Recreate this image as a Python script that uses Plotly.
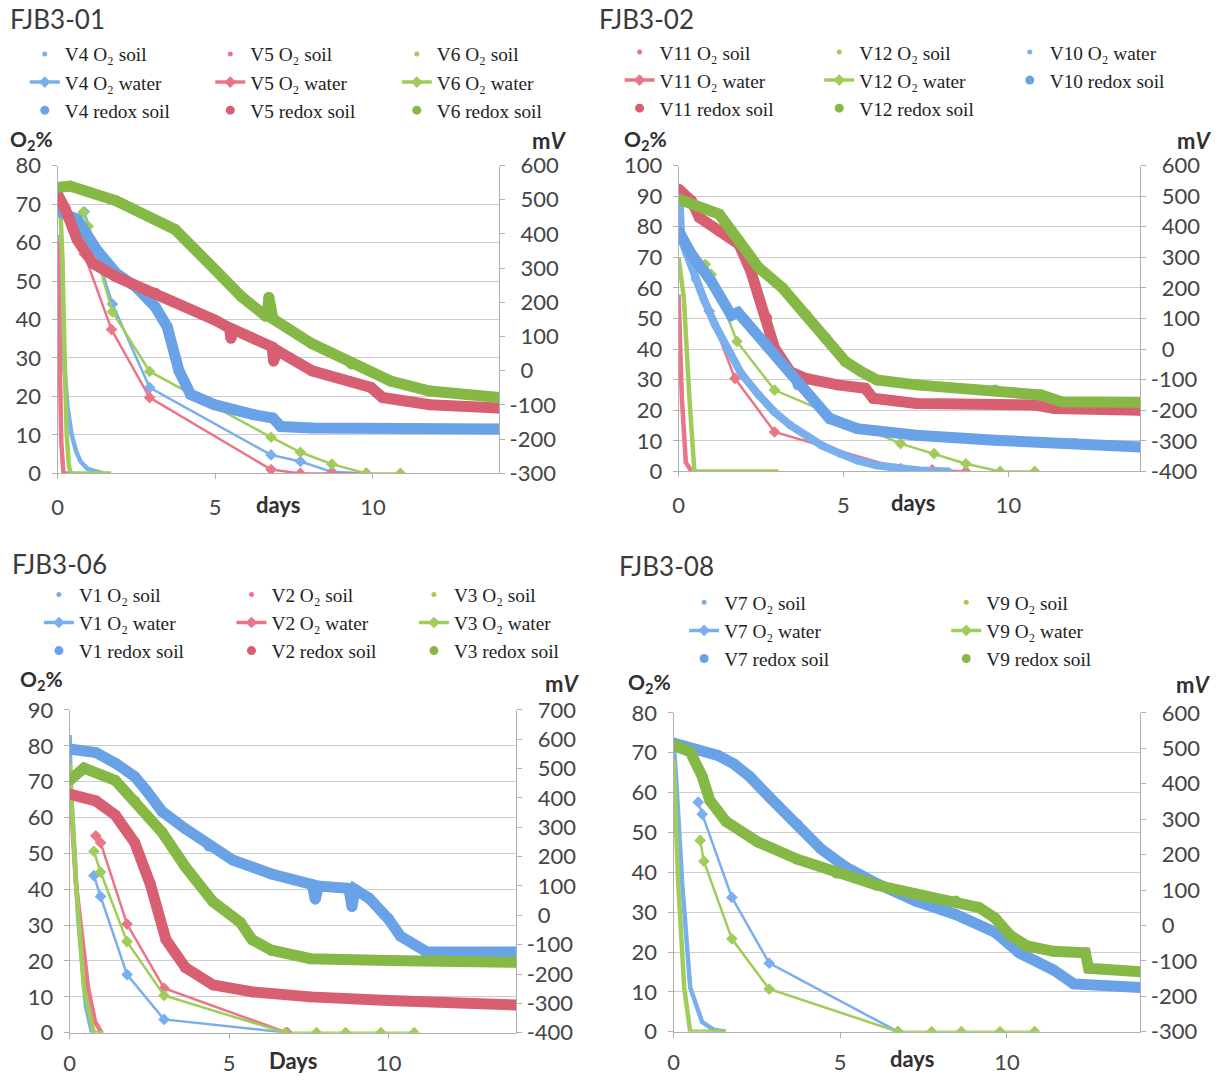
import plotly.graph_objects as go

W, H = 1219, 1080

# ---------------- DATA ----------------
BLUE, PINK, GREEN = "#78AFEC", "#EC7487", "#A0CD5A"
BLUE_R, PINK_R, GREEN_R = "#69A2E6", "#D85F71", "#86B846"

# FJB3-01  (O2 %, redox mV)
v4_soil_x = [0, 0.12, 0.22, 0.32, 0.45, 0.6, 0.73, 0.95, 1.3, 1.45]
v4_soil_y = [62, 42, 27, 17, 10, 5.5, 3.1, 1.2, 0.2, 0]
v5_soil_x = [0, 0.04, 0.08, 0.12, 0.19, 0.4]
v5_soil_y = [60, 42, 22, 8, 0, 0]
v6_soil_x = [0.1, 0.16, 0.22, 0.29, 0.36, 0.42, 0.8, 1.7]
v6_soil_y = [67, 55, 32, 10, 2, 0, 0, 0]
v4_water_x = [0.85, 1.74, 2.92, 6.77, 7.7, 8.7, 9.79]
v4_water_y = [68, 44, 22.3, 4.8, 3.1, 0.4, 0]
v5_water_x = [0.85, 1.71, 2.92, 6.77, 7.7, 8.7, 9.79]
v5_water_y = [57, 37.4, 19.7, 1.0, 0, 0, 0]
v6_water_x = [0.81, 0.97, 1.74, 2.92, 6.77, 7.7, 8.7, 9.79, 10.87]
v6_water_y = [67.9, 64.2, 42, 26.5, 9.4, 5.5, 2.4, 0, 0]
v4_redox_x = [0, 0.62, 1.24, 1.86, 2.48, 3.1, 3.48, 3.85, 4.22, 4.97, 6.21, 6.83, 7.08, 8.07, 14]
v4_redox_y = [467, 443, 354, 285, 246, 187, 128, 0, -69, -99, -128, -138, -163, -167, -170]
v5_redox_x = [0, 0.25, 0.62, 1.12, 1.86, 3.1, 5.0, 5.45, 5.5, 5.55, 6.8, 6.85, 6.95, 8.07, 9.94, 10.3, 11.8, 14]
v5_redox_y = [516, 472, 384, 314, 275, 227, 148, 125, 95, 122, 70, 28, 60, 0, -49, -78, -99, -109]
v6_redox_x = [0, 0.4, 1.86, 3.73, 5.0, 5.84, 6.6, 6.65, 6.7, 6.75, 6.83, 8.07, 9.32, 10.56, 11.8, 14]
v6_redox_y = [536, 540, 497, 413, 295, 216, 160, 160, 215, 160, 152, 79, 20, -30, -59, -78]

# FJB3-02
v11_soil_x = [0, 0.05, 0.1, 0.22, 0.39]
v11_soil_y = [57.8, 45, 23.9, 3, 0]
v12_soil_x = [0, 0.16, 0.33, 0.48, 1.5, 3.03]
v12_soil_y = [70, 56.7, 23.9, 0, 0, 0]
v10_water_x = [0, 0.04, 0.08, 0.22, 0.5, 0.75, 1.1, 1.47, 1.9, 2.43, 2.9, 3.39, 3.9, 4.34, 4.9, 5.42, 6.0, 6.62, 7.3, 8.17]
v10_water_y = [78, 87, 76, 72, 63, 56.7, 48, 40.3, 32, 25, 19.5, 15.1, 11.5, 8.5, 5.8, 3.6, 2, 0.9, 0.3, 0]
v11_water_x = [0.93, 1.71, 2.91, 6.73, 7.69, 8.71]
v11_water_y = [52.4, 30.4, 12.9, 0.9, 0.5, 0]
v12_water_x = [0.81, 0.99, 1.77, 2.91, 6.73, 7.75, 8.71, 9.75, 10.8]
v12_water_y = [67.7, 64.4, 42.5, 26.6, 9.1, 5.8, 2.5, 0, 0]
v11_redox_x = [0, 0.39, 0.63, 1.23, 1.83, 2.19, 2.67, 2.91, 3.39, 3.86, 4.82, 5.66, 5.9, 7.21, 10.8, 11.4, 14]
v11_redox_y = [523, 485, 430, 386, 343, 255, 102, 3, -74, -96, -117, -128, -161, -178, -183, -194, -200]
v12_redox_x = [0, 1.23, 1.83, 2.43, 3.15, 3.86, 4.46, 5.06, 5.54, 6.01, 7.21, 9.6, 11.0, 11.6, 14]
v12_redox_y = [490, 441, 354, 266, 200, 113, 36, -41, -74, -101, -117, -134, -150, -172, -174]
v10_redox_x = [0, 0.39, 0.99, 1.6, 1.8, 2.0, 2.67, 3.62, 4.58, 5.42, 7.21, 9.6, 12, 14]
v10_redox_y = [386, 310, 222, 110, 120, 95, 14, -117, -227, -260, -282, -298, -309, -320]

# FJB3-06
v1_soil_x = [0, 0.03, 0.09, 0.27, 0.51, 0.7]
v1_soil_y = [83, 70, 60.7, 31.7, 7.5, 0]
v2_soil_x = [0, 0.2, 0.58, 0.8, 1.0]
v2_soil_y = [70.4, 41.4, 12.4, 3, 0]
v3_soil_x = [0, 0.2, 0.45, 0.76, 1.06]
v3_soil_y = [75.2, 41.4, 12.4, 0, 0]
v1_water_x = [0.76, 0.97, 1.8, 2.96, 6.82]
v1_water_y = [43.8, 38, 16.2, 3.7, 0]
v2_water_x = [0.82, 0.97, 1.8, 2.96, 6.82]
v2_water_y = [54.9, 53, 30.3, 12.4, 0]
v3_water_x = [0.76, 0.97, 1.8, 2.96, 6.76, 7.74, 8.65, 9.76, 10.8]
v3_water_y = [50.6, 44.8, 25.4, 10.4, 0, 0, 0, 0, 0]
v1_redox_x = [0, 0.82, 1.43, 2.04, 2.41, 2.9, 3.63, 4.37, 5.1, 6.33, 7.6, 7.7, 7.8, 8.75, 8.85, 8.95, 9.39, 10.0, 10.37, 11.2, 14]
v1_redox_y = [567, 555, 519, 473, 425, 354, 295, 236, 189, 141, 105, 55, 100, 92, 30, 88, 58, -13, -71, -125, -125]
v2_redox_x = [0, 0.82, 1.43, 2.04, 2.53, 3.02, 3.63, 4.49, 5.72, 7.55, 10, 14]
v2_redox_y = [413, 390, 342, 248, 106, -83, -178, -237, -261, -278, -290, -306]
v3_redox_x = [0, 0.45, 1.43, 2.04, 2.9, 3.63, 4.49, 5.35, 5.72, 6.33, 7.55, 10, 14]
v3_redox_y = [460, 502, 460, 390, 283, 165, 47, -24, -83, -119, -148, -154, -160]

# FJB3-08
v7_soil_x = [0, 0.04, 0.08, 0.26, 0.5, 0.86, 1.2, 1.57]
v7_soil_y = [73, 66, 63.3, 37.2, 11.1, 2.4, 0.5, 0]
v9_soil_x = [0, 0.14, 0.32, 0.5, 1.57]
v9_soil_y = [68.5, 37.2, 11.1, 0, 0]
v7_water_x = [0.74, 0.86, 1.75, 2.87, 6.73]
v7_water_y = [57.6, 54.6, 33.7, 17.2, 0]
v9_water_x = [0.8, 0.91, 1.75, 2.87, 6.73, 7.74, 8.63, 9.79, 10.83]
v9_water_y = [48, 42.8, 23.3, 10.7, 0, 0, 0, 0, 0]
v7_redox_x = [0, 0.74, 1.33, 1.81, 2.28, 2.87, 3.71, 4.42, 5.13, 6.08, 7.27, 8.46, 9.64, 10.36, 11.4, 12, 14]
v7_redox_y = [515, 494, 480, 456, 421, 363, 285, 216, 167, 119, 69, 31, -19, -77, -126, -165, -175]
v9_redox_x = [0, 0.5, 0.86, 1.09, 1.57, 2.52, 3.71, 4.89, 6.08, 7.27, 8.46, 9.17, 9.64, 10.1, 10.6, 11.4, 12.35, 12.45, 14]
v9_redox_y = [509, 490, 421, 353, 294, 236, 187, 148, 114, 89, 69, 50, 21, -28, -58, -73, -77, -121, -131]

panel_titles = ["FJB3-01", "FJB3-02", "FJB3-06", "FJB3-08"]
x_titles = ["days", "days", "Days", "days"]
left_ranges = [(0, 80), (0, 100), (0, 90), (0, 80)]
right_ranges = [(-300, 600), (-400, 600), (-400, 700), (-300, 600)]
x_range = (0, 14)
x_ticks = [0, 5, 10]

# ---------------- LAYOUT GEOMETRY ----------------
def fx(p):
    return (p / 0.987 - 8) / W

def fy(p):
    return 1 - (p / 0.985 - 8) / H

panel_px = [
    dict(x0=59, x1=497, y0=161, y1=472),
    dict(x0=675, x1=1133, y0=161, y1=470),
    dict(x0=71, x1=514, y0=711, y1=1037),
    dict(x0=670, x1=1133, y0=714, y1=1036),
]

TICKFONT = dict(family="Lato, 'Open Sans', sans-serif", size=22, color="#454545")
GRID = "#cccccc"
AXLINE = "#b0b0b0"

fig = go.Figure()

for i, g in enumerate(panel_px):
    n = i + 1
    xa = "xaxis" if n == 1 else f"xaxis{n}"
    ya = "yaxis" if n == 1 else f"yaxis{2 * n - 1}"
    yb = f"yaxis{2 * n}"
    xref = "x" if n == 1 else f"x{n}"
    yref = "y" if n == 1 else f"y{2 * n - 1}"
    lo, hi = left_ranges[i]
    rlo, rhi = right_ranges[i]
    rvals = list(range(rlo, rhi + 1, 100))
    rtext = [str(v) if v < 0 else "\u2002" + str(v) for v in rvals]
    fig.layout[xa] = dict(
        domain=[fx(g["x0"]), fx(g["x1"])], range=list(x_range), anchor=yref,
        tickvals=x_ticks, showgrid=False, zeroline=False, showline=True,
        linecolor=AXLINE, ticks="outside", ticklen=5, tickcolor=AXLINE,
        tickfont=TICKFONT, ticklabelstandoff=9 if i < 2 else 6,
    )
    fig.layout[ya] = dict(
        domain=[fy(g["y1"]), fy(g["y0"])], range=[lo, hi], anchor=xref, dtick=10,
        showgrid=True, gridcolor=GRID, gridwidth=1, zeroline=False, showline=True,
        linecolor=AXLINE, ticks="outside", ticklen=5, tickcolor=AXLINE,
        tickfont=TICKFONT, ticklabelstandoff=6,
    )
    fig.layout[yb] = dict(
        range=[rlo, rhi], overlaying=yref, anchor=xref, side="right",
        tickvals=rvals, ticktext=rtext,
        showgrid=False, zeroline=False, showline=True, linecolor=AXLINE,
        ticks="outside", ticklen=5, tickcolor=AXLINE, tickfont=TICKFONT,
        ticklabelstandoff=0,
    )

panels = [
    [
        ("V4", BLUE, BLUE_R, (v4_soil_x, v4_soil_y), (v4_water_x, v4_water_y), (v4_redox_x, v4_redox_y)),
        ("V5", PINK, PINK_R, (v5_soil_x, v5_soil_y), (v5_water_x, v5_water_y), (v5_redox_x, v5_redox_y)),
        ("V6", GREEN, GREEN_R, (v6_soil_x, v6_soil_y), (v6_water_x, v6_water_y), (v6_redox_x, v6_redox_y)),
    ],
    [
        ("V11", PINK, PINK_R, (v11_soil_x, v11_soil_y), (v11_water_x, v11_water_y), (v11_redox_x, v11_redox_y)),
        ("V12", GREEN, GREEN_R, (v12_soil_x, v12_soil_y), (v12_water_x, v12_water_y), (v12_redox_x, v12_redox_y)),
        ("V10", BLUE, BLUE_R, None, (v10_water_x, v10_water_y), (v10_redox_x, v10_redox_y)),
    ],
    [
        ("V1", BLUE, BLUE_R, (v1_soil_x, v1_soil_y), (v1_water_x, v1_water_y), (v1_redox_x, v1_redox_y)),
        ("V2", PINK, PINK_R, (v2_soil_x, v2_soil_y), (v2_water_x, v2_water_y), (v2_redox_x, v2_redox_y)),
        ("V3", GREEN, GREEN_R, (v3_soil_x, v3_soil_y), (v3_water_x, v3_water_y), (v3_redox_x, v3_redox_y)),
    ],
    [
        ("V7", BLUE, BLUE_R, (v7_soil_x, v7_soil_y), (v7_water_x, v7_water_y), (v7_redox_x, v7_redox_y)),
        ("V9", GREEN, GREEN_R, (v9_soil_x, v9_soil_y), (v9_water_x, v9_water_y), (v9_redox_x, v9_redox_y)),
    ],
]

legend_cols = [
    [66, 250, 435],
    [656, 854, 1043],
    [80, 271, 452],
    [720, 980],
]
legend_row1 = [46, 44, 592, 600]

LEGFONT = dict(family="'Liberation Serif', 'Times New Roman', serif", size=19.3, color="#222222")

leg_idx = 0
for i, series in enumerate(panels):
    n = i + 1
    xref = "x" if n == 1 else f"x{n}"
    yl = "y" if n == 1 else f"y{2 * n - 1}"
    yr = f"y{2 * n}"
    for j, (name, col, colr, soil, water, redox) in enumerate(series):
        leg_idx += 1
        lname = "legend" if leg_idx == 1 else f"legend{leg_idx}"
        fig.layout[lname] = dict(
            x=fx(legend_cols[i][j]) - 40 / W, y=fy(legend_row1[i] - 17),
            xanchor="left", yanchor="top", orientation="v",
            bgcolor="rgba(0,0,0,0)", font=LEGFONT, tracegroupgap=0,
            itemwidth=30, traceorder="normal",
        )
        fig.add_trace(go.Scatter(
            x=redox[0], y=redox[1], xaxis=xref, yaxis=yr, mode="lines+markers",
            line=dict(color=colr, width=11), marker=dict(size=11, color=colr),
            showlegend=False, hoverinfo="skip"))
        if name == "V10":
            fig.add_trace(go.Scatter(
                x=water[0], y=water[1], xaxis=xref, yaxis=yl, mode="lines+markers",
                line=dict(color=col, width=8), marker=dict(size=8, color=col),
                showlegend=False, hoverinfo="skip"))
        else:
            fig.add_trace(go.Scatter(
                x=soil[0], y=soil[1], xaxis=xref, yaxis=yl, mode="lines",
                line=dict(color=col, width=4.5), showlegend=False, hoverinfo="skip"))
            fig.add_trace(go.Scatter(
                x=water[0], y=water[1], xaxis=xref, yaxis=yl, mode="lines+markers",
                line=dict(color=col, width=2.5),
                marker=dict(symbol="diamond", size=9, color=col),
                showlegend=False, hoverinfo="skip"))
        if name == "V10":
            fig.add_trace(go.Scatter(
                x=[None], y=[None], xaxis=xref, yaxis=yl, mode="markers",
                marker=dict(size=5, color=col), name=f"{name} O₂ water", legend=lname))
        else:
            fig.add_trace(go.Scatter(
                x=[None], y=[None], xaxis=xref, yaxis=yl, mode="markers",
                marker=dict(size=5, color=col), name=f"{name} O₂ soil", legend=lname))
            fig.add_trace(go.Scatter(
                x=[None], y=[None], xaxis=xref, yaxis=yl, mode="lines+markers",
                line=dict(color=col, width=3.5), marker=dict(symbol="diamond", size=9, color=col),
                name=f"{name} O₂ water", legend=lname))
        fig.add_trace(go.Scatter(
            x=[None], y=[None], xaxis=xref, yaxis=yl, mode="markers",
            marker=dict(size=9, color=colr), name=f"{name} redox soil", legend=lname))

title_pos = [(10, 13), (594, 13), (12, 564), (614, 566)]
o2_pos = [(10, 135), (619, 135), (20, 681), (623, 684)]
mv_pos = [(565, 136), (1205, 136), (578, 684), (1204, 685)]
days_pos = [(278, 503), (908, 501), (293, 1065), (907, 1063)]

LABFONT = dict(family="Lato, 'Open Sans', sans-serif", size=22, color="#303030")
O2FONT = dict(family="Lato, 'Open Sans', sans-serif", size=21, color="#303030")
annotations = []
for i in range(4):
    annotations.append(dict(
        x=fx(title_pos[i][0]), y=fy(title_pos[i][1]), xref="paper", yref="paper",
        xanchor="left", yanchor="middle", showarrow=False, text=panel_titles[i],
        font=dict(family="Lato, 'Open Sans', sans-serif", size=26, color="#3a3a3a")))
    annotations.append(dict(
        x=fx(o2_pos[i][0]), y=fy(o2_pos[i][1]), xref="paper", yref="paper",
        xanchor="left", yanchor="middle", showarrow=False,
        text="<b>O<sub>2</sub>%</b>", font=O2FONT))
    annotations.append(dict(
        x=fx(mv_pos[i][0]), y=fy(mv_pos[i][1]), xref="paper", yref="paper",
        xanchor="right", yanchor="middle", showarrow=False,
        text="<b>m<i>V</i></b>", font=LABFONT))
    annotations.append(dict(
        x=fx(days_pos[i][0]), y=fy(days_pos[i][1]), xref="paper", yref="paper",
        xanchor="center", yanchor="middle", showarrow=False,
        text=f"<b>{x_titles[i]}</b>", font=LABFONT))

fig.update_layout(
    width=W, height=H, margin=dict(l=0, r=0, t=0, b=0),
    paper_bgcolor="white", plot_bgcolor="white",
    annotations=annotations, hovermode=False,
)

fig.write_html("out.html")
